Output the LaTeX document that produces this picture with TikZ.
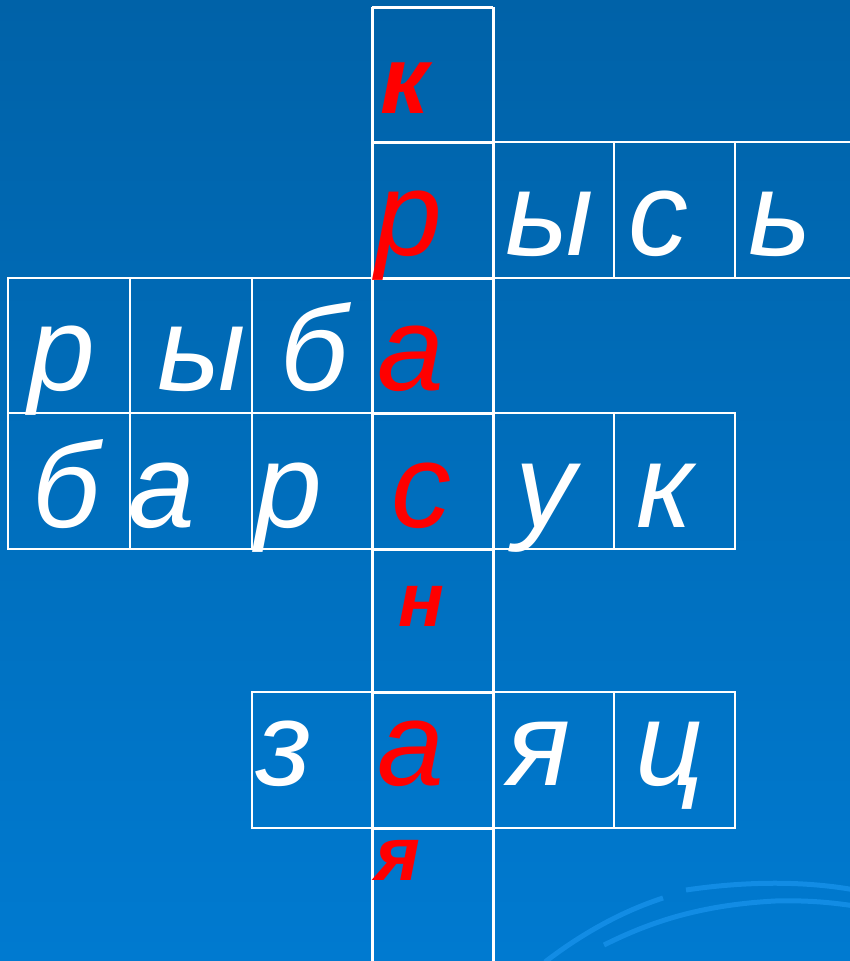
\documentclass[tikz,border=0pt]{standalone}
\usepackage{fontspec}
\setmainfont{Liberation Sans}
\begin{document}
\begin{tikzpicture}[x=1pt,y=-1pt,
  gridline/.style={draw=white,line width=2.6pt},
  colline/.style={draw=white,line width=3pt},
  wl/.style={text=white,font=\fontsize{120}{120}\selectfont\itshape,anchor=base,inner sep=0pt},
  rl/.style={text=red,font=\fontsize{120}{120}\selectfont\itshape,anchor=base,inner sep=0pt},
  rb/.style={text=red,font=\fontsize{76}{76}\selectfont\bfseries\itshape,anchor=base,inner sep=0pt},
  rbig/.style={text=red,font=\fontsize{96}{96}\selectfont\bfseries\itshape,anchor=base,inner sep=0pt},
  swoosh/.style={draw={rgb,255:red,18;green,140;blue,228},line width=5pt}]
\definecolor{bgtop}{RGB}{0,98,168}
\definecolor{bgbot}{RGB}{0,122,208}
\useasboundingbox (0,0) rectangle (850,961);
\shade[top color=bgtop,bottom color=bgbot] (0,0) rectangle (850,961);
% decorative arcs
\begin{scope}
\clip (0,0) rectangle (850,961);
\draw[swoosh] (686,890) .. controls (740,882) and (800,880) .. (855,890);
\draw[swoosh] (604,945) .. controls (650,922) and (700,905) .. (775,901) .. controls (810,900) and (835,903) .. (855,906);
\draw[swoosh] (545,962) .. controls (580,935) and (620,912) .. (663,898);
\end{scope}
% grid cells
\begin{scope}
\clip (0,0) rectangle (850,961);
\foreach \xa/\ya/\xb/\yb in {
  493/142/614/278, 614/142/735/278, 735/142/860/278,
  8/278/130/413, 130/278/252/413, 252/278/372/413,
  8/413/130/549, 130/413/252/549, 252/413/372/549,
  493/413/614/549, 614/413/735/549,
  252/692/372/828, 493/692/614/828, 614/692/735/828}
  \draw[gridline] (\xa,\ya) rectangle (\xb,\yb);
\draw[colline] (372,7) -- (493,7);
\draw[colline] (372,7) -- (372,970);
\draw[colline] (493,7) -- (493,970);
\foreach \y in {142,278,413,549,692,828}
  \draw[colline] (372,\y) -- (493,\y);
\end{scope}
% column word
\node[rbig] (c1) at (405,113) {к};
\node[rl] (c2) at (409,255) {р};
\node[rl] (c3) at (411,390) {а};
\node[rl] (c4) at (421,527) {с};
\node[rb] (c5) at (421,626) {н};
\node[rl] (c6) at (411,785) {а};
\node[rb] (c7) at (398,880) {я};
% рысь
\node[wl] (r1b) at (550,255) {ы};
\node[wl] (r1c) at (658,255) {с};
\node[wl] (r1d) at (780,255) {ь};
% рыба
\node[wl] (r2a) at (62,390) {р};
\node[wl] (r2b) at (202,390) {ы};
\node[wl] (r2c) at (314,390) {б};
% барсук
\node[wl] (r3a) at (66,527) {б};
\node[wl] (r3b) at (162,527) {а};
\node[wl] (r3c) at (289,527) {р};
\node[wl] (r3e) at (545,527) {у};
\node[wl] (r3f) at (665,527) {к};
% заяц
\node[wl] (r4a) at (284,785) {з};
\node[wl] (r4c) at (539,785) {я};
\node[wl] (r4d) at (670,785) {ц};
\end{tikzpicture}
\end{document}
